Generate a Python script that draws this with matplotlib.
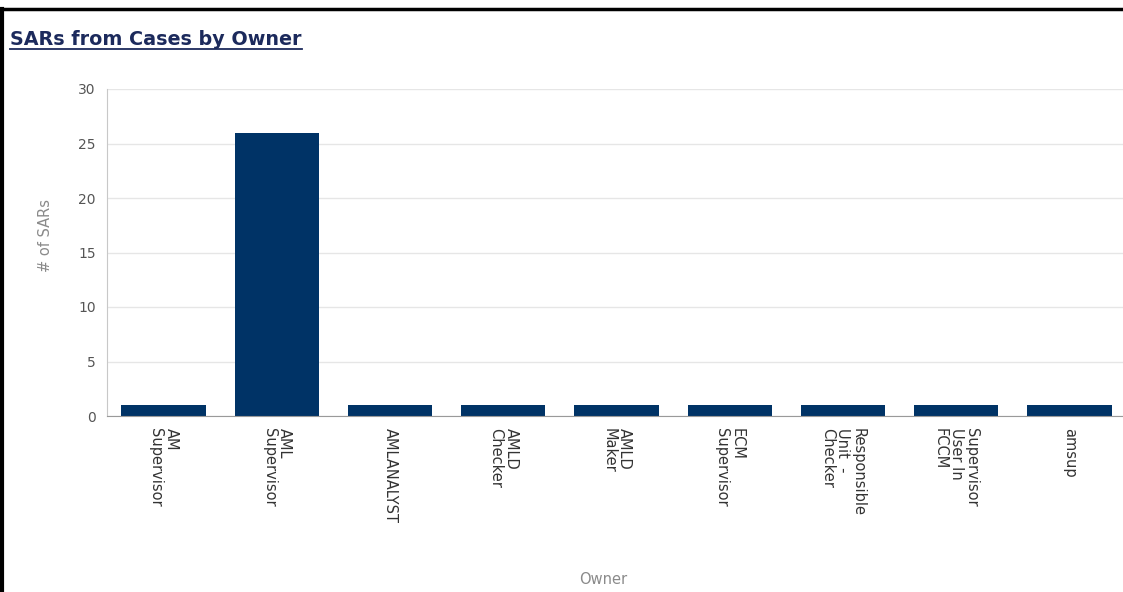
import matplotlib
matplotlib.use("Agg")
import matplotlib.pyplot as plt
from matplotlib.lines import Line2D

owners = ["AM\nSupervisor", "AML\nSupervisor", "AMLANALYST", "AMLD\nChecker",
          "AMLD\nMaker", "ECM\nSupervisor", "Responsible\nUnit  -\nChecker",
          "Supervisor\nUser In\nFCCM", "amsup"]
sars = [1, 26, 1, 1, 1, 1, 1, 1, 1]
yticks = [0, 5, 10, 15, 20, 25, 30]

W, H = 1123, 592
fig = plt.figure(figsize=(W / 100, H / 100), dpi=100)
fig.patch.set_facecolor("white")

left_px, right_px, top_px, bot_px = 107, 1123, 89, 416
ax = fig.add_axes([left_px / W, 1 - bot_px / H, (right_px - left_px) / W, (bot_px - top_px) / H])

x = list(range(len(owners)))
ax.bar(x, sars, width=0.745, color="#003366", zorder=3)
ax.set_xlim(-0.5, len(owners) - 0.5 - 3 / 113.0)
ax.set_ylim(0, 30)
ax.set_yticks(yticks)
ax.set_yticklabels([str(v) for v in yticks], fontsize=10, color="#555555")
ax.set_xticks(x)
ax.set_xticklabels(owners, rotation=-90, fontsize=10.5, color="#333333",
                   va="top", ha="center", multialignment="left", linespacing=1.05)
ax.tick_params(axis="both", length=0)
ax.tick_params(axis="x", pad=9)
ax.tick_params(axis="y", pad=8)
ax.grid(axis="y", color="#e6e6e6", linewidth=1, zorder=0)
for s in ["top", "right"]:
    ax.spines[s].set_visible(False)
ax.spines["left"].set_color("#c8c8c8")
ax.spines["bottom"].set_color("#9a9a9a")
ax.spines["bottom"].set_zorder(4)

fig.text(45 / W, 1 - 235 / H, "# of SARs", rotation=90, fontsize=10.5, color="#8a8a8a",
         ha="center", va="center")
fig.text(603 / W, 1 - 580 / H, "Owner", fontsize=10.5, color="#8a8a8a",
         ha="center", va="center")

title = fig.text(10 / W, 1 - 45 / H, "SARs from Cases by Owner", fontsize=13.8,
                 fontweight="bold", color="#1c2a5c", ha="left", va="baseline")

# page border lines
fig.add_artist(Line2D([1 / W, 1], [1 - 9 / H, 1 - 9 / H], color="black", linewidth=2.5,
                      transform=fig.transFigure))
fig.add_artist(Line2D([2 / W, 2 / W], [0, 1 - 9 / H], color="black", linewidth=3,
                      transform=fig.transFigure))

fig.canvas.draw()
bb = title.get_window_extent(fig.canvas.get_renderer())
uy = (H - 49) / H
fig.add_artist(Line2D([bb.x0 / W, bb.x1 / W], [uy, uy], color="#1c2a5c", linewidth=1.3,
                      transform=fig.transFigure))

fig.savefig("out.png", dpi=100)
